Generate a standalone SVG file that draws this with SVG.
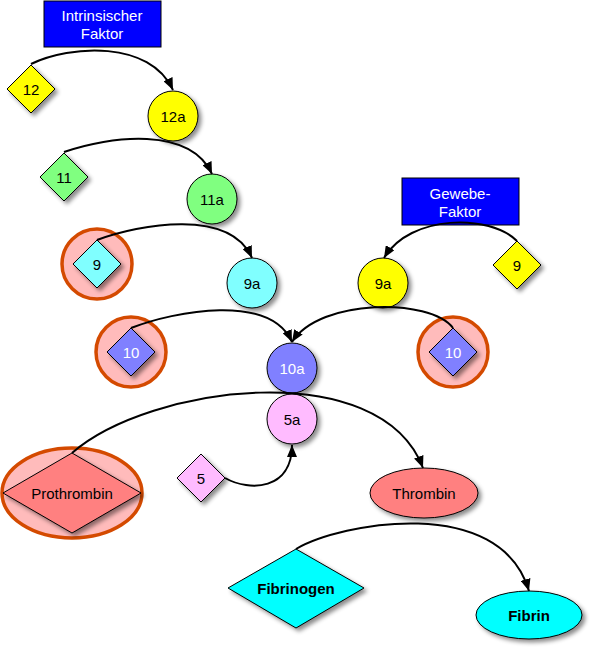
<svg xmlns="http://www.w3.org/2000/svg" width="592" height="650" viewBox="0 0 592 650">
<defs>
<filter id="sh" x="-30%" y="-30%" width="160%" height="160%">
<feDropShadow dx="3" dy="3" stdDeviation="2" flood-color="#000" flood-opacity="0.45"/>
</filter>
<marker id="ah" markerWidth="12" markerHeight="10" viewBox="0 0 12 10" refX="12" refY="5" orient="auto" markerUnits="userSpaceOnUse">
<path d="M0,0 L12,5 L0,10 Z" fill="#000"/>
</marker>
</defs>
<style>
text{font-family:"Liberation Sans",Arial,sans-serif;font-size:15px;text-anchor:middle;dominant-baseline:central;fill:#000}
.w{fill:#fff}
.b{font-weight:bold}
.n{stroke:#000;stroke-width:1;filter:url(#sh)}
.ring{fill:#ffbbbb;stroke:#d44a00;stroke-width:3.5}
.box{fill:#0000ff;stroke:#000;stroke-width:1}
.c path{fill:none;stroke:#000;stroke-width:2;marker-end:url(#ah)}
</style>
<g id="intrinsic"><rect class="box" x="44" y="1" width="117" height="46"/><text class="w" x="102" y="15">Intrinsischer</text><text class="w" x="102" y="33">Faktor</text></g>
<g id="gewebe"><rect class="box" x="402" y="178" width="117" height="47"/><text class="w" x="460" y="193">Gewebe-</text><text class="w" x="460" y="211">Faktor</text></g>
<g id="f12"><path class="n" d="M31,65 L55,89 L31,113 L7,89 Z" fill="#ffff00"/><text x="31" y="89">12</text></g>
<g id="f12a"><circle class="n" cx="173" cy="116" r="25" fill="#ffff00"/><text x="173" y="116">12a</text></g>
<g id="f11"><path class="n" d="M64,153 L88,177 L64,201 L40,177 Z" fill="#80ff80"/><text x="64" y="177">11</text></g>
<g id="f11a"><circle class="n" cx="212" cy="199" r="25" fill="#80ff80"/><text x="212" y="199">11a</text></g>
<g id="f9l"><circle class="ring" cx="97" cy="264" r="35"/><path class="n" d="M97,240 L121,264 L97,288 L73,264 Z" fill="#80ffff"/><text x="97" y="264">9</text></g>
<g id="f9a_c"><circle class="n" cx="252" cy="283" r="25" fill="#80ffff"/><text x="252" y="283">9a</text></g>
<g id="f10l"><circle class="ring" cx="131" cy="352" r="35"/><path class="n" d="M131,328 L155,352 L131,376 L107,352 Z" fill="#8080ff"/><text class="w" x="131" y="352">10</text></g>
<g id="f9r"><path class="n" d="M517,241 L541,265 L517,289 L493,265 Z" fill="#ffff00"/><text x="517" y="265">9</text></g>
<g id="f9a_y"><circle class="n" cx="383" cy="283" r="25" fill="#ffff00"/><text x="383" y="283">9a</text></g>
<g id="f10r"><circle class="ring" cx="453" cy="352" r="35"/><path class="n" d="M453,328 L477,352 L453,376 L429,352 Z" fill="#8080ff"/><text class="w" x="453" y="352">10</text></g>
<g id="f10a"><circle class="n" cx="292" cy="368" r="25" fill="#8080ff"/><text class="w" x="292" y="368">10a</text></g>
<g id="f5a"><circle class="n" cx="292" cy="419" r="25" fill="#ffbbff"/><text x="292" y="419">5a</text></g>
<g id="f5"><path class="n" d="M201,454 L225,478 L201,502 L177,478 Z" fill="#ffbbff"/><text x="201" y="478">5</text></g>
<g id="prothrombin"><ellipse class="ring" cx="72" cy="493" rx="70" ry="45"/><path class="n" d="M72,453 L141,493 L72,533 L3,493 Z" fill="#ff8080"/><text x="72" y="493">Prothrombin</text></g>
<g id="thrombin"><ellipse class="n" cx="424" cy="493" rx="54" ry="25" fill="#ff8080"/><text x="424" y="493">Thrombin</text></g>
<g id="fibrinogen"><path class="n" d="M296,549 L364,588 L296,628 L228,588 Z" fill="#00ffff"/><text class="b" x="296" y="588">Fibrinogen</text></g>
<g id="fibrin"><ellipse class="n" cx="529" cy="615" rx="53" ry="24" fill="#00ffff"/><text class="b" x="529" y="615">Fibrin</text></g>
<g id="connectors" class="c">
<path d="M31,64 C70,45 150,40 173,90"/>
<path d="M64,152 C110,136 190,126 212,174"/>
<path d="M97,240 C140,224 230,208 252,258"/>
<path d="M131,328 C175,311 270,293 292,342"/>
<path d="M517,241 C490,214 410,214 384,258"/>
<path d="M453,328 C430,298 320,298 292,342"/>
<path d="M72,453 C150,385 380,355 423,468"/>
<path d="M225,478 C250,492 292,490 292,445"/>
<path d="M296,549 C340,523 500,493 529,591"/>
</g>
</svg>
